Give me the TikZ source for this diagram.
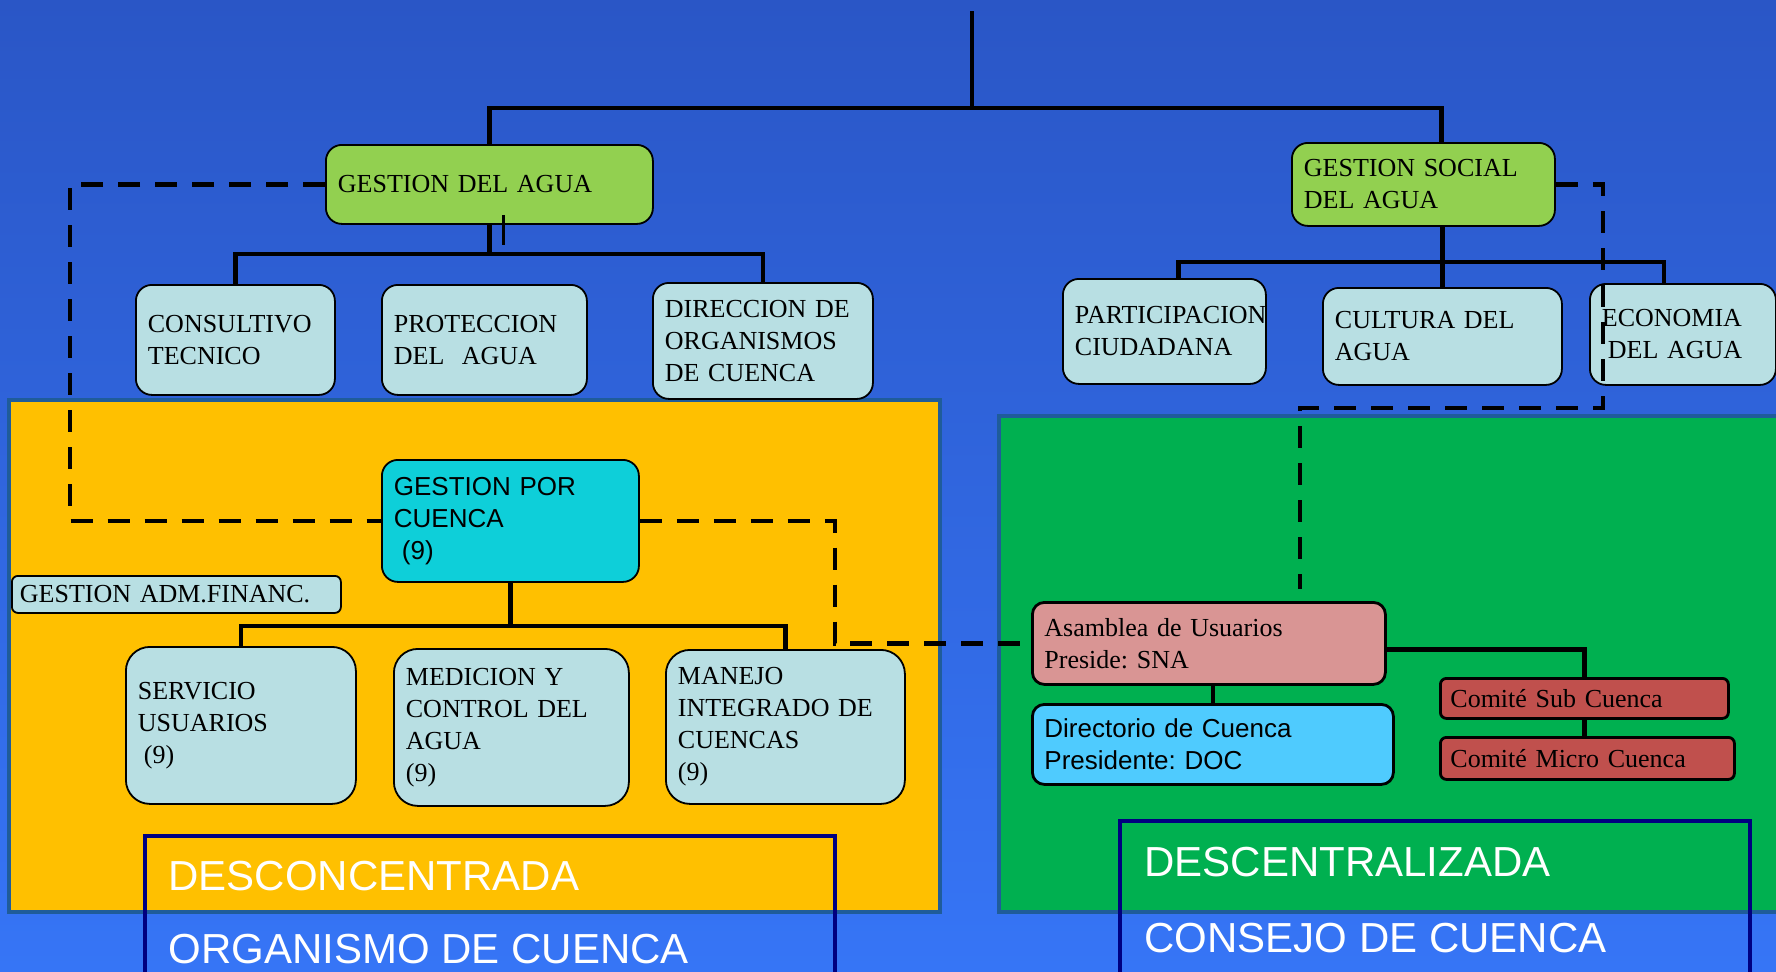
\documentclass[tikz,border=0pt]{standalone}
\usepackage{fontspec}
\setmainfont{Liberation Serif}
\setsansfont{Liberation Sans}
\frenchspacing
\definecolor{bgtop}{HTML}{2A56C6}
\definecolor{bgbot}{HTML}{3675F6}
\definecolor{verde}{HTML}{92D050}
\definecolor{celeste}{HTML}{B8DFE3}
\definecolor{turquesa}{HTML}{0ECFD9}
\definecolor{naranja}{HTML}{FFC000}
\definecolor{pasto}{HTML}{00B050}
\definecolor{rosa}{HTML}{D99594}
\definecolor{cielo}{HTML}{4FCBFE}
\definecolor{ladrillo}{HTML}{C0504D}
\definecolor{marco}{HTML}{1F5C9A}
\definecolor{marino}{HTML}{000080}

\begin{document}
\begin{tikzpicture}[x=0.5pt,y=-0.5pt,
    orgbox/.style={draw, line width=0.9pt, rounded corners=8pt, anchor=north west, align=left, inner xsep=6pt, inner ysep=0pt, font=\fontsize{13}{16}\selectfont},
    light/.style={orgbox, fill=celeste},
    conn/.style={line width=2.2pt},
    dashlink/.style={line width=2.2pt, dash pattern=on 11pt off 7.5pt},
    zone/.style={fill=#1, draw=marco, line width=2pt},
    tagframe/.style={draw=marino, line width=1.6pt},
    bigtext/.style={anchor=west, text=white, inner sep=0pt, font=\sffamily\fontsize{21}{25}\selectfont}]
    \useasboundingbox (0,0) rectangle (1776,971);
    \clip (0,0) rectangle (1776,971);
    \fill[top color=bgtop, bottom color=bgbot] (0,0) rectangle (1776,971);
    \draw[zone=naranja] (9,400) rectangle (940,912);
    \draw[zone=pasto] (999,416) rectangle (1790,912);
    \draw[tagframe] (145,836) rectangle (835,990);
    \draw[tagframe] (1120,821) rectangle (1750,990);
    \node[bigtext] (desc) at (168,876) {DESCONCENTRADA};
    \node[bigtext] (orgc) at (168,949) {ORGANISMO DE CUENCA};
    \node[bigtext] (decen) at (1144,862) {DESCENTRALIZADA};
    \node[bigtext] (conc) at (1144,938) {CONSEJO DE CUENCA};

    \node[orgbox, fill=verde, text width=151.5pt, minimum height=39.5pt] (gda) at (325,144) {GESTION DEL AGUA};
    \node[orgbox, fill=verde, text width=119.5pt, minimum height=41.5pt] (gsda) at (1291,142) {GESTION SOCIAL\\DEL AGUA};
    \node[light, text width=87.5pt, minimum height=55pt] (ct) at (135,284) {CONSULTIVO\\TECNICO};
    \node[light, text width=90.5pt, minimum height=55pt] (pa) at (381,284) {PROTECCION\\DEL~~AGUA};
    \node[light, text width=98pt, minimum height=58pt] (doc) at (652,282) {DIRECCION DE\\ORGANISMOS\\DE CUENCA};
    \node[light, text width=89.5pt, minimum height=52.5pt] (pc) at (1062,278) {PARTICIPACION\\CIUDADANA};
    \node[light, text width=107.5pt, minimum height=48.5pt] (cda) at (1322,287) {CULTURA DEL\\AGUA};
    \node[light, text width=81pt, minimum height=50.5pt] (eda) at (1589,283) {ECONOMIA\\\hspace*{3pt}DEL AGUA};
    \node[orgbox, fill=turquesa, font=\sffamily\fontsize{13}{16}\selectfont, text width=116.5pt, minimum height=61pt] (gpc) at (381,459) {GESTION POR\\CUENCA\\\hspace*{4pt}(9)};
    \node[light, rounded corners=3pt, inner xsep=4pt, text width=156.5pt, minimum height=18.5pt] (gaf) at (11,575) {GESTION ADM.FINANC.};
    \node[light, rounded corners=12pt, text width=103pt, minimum height=78.5pt] (su) at (125,646) {SERVICIO\\USUARIOS\\\hspace*{3pt}(9)};
    \node[light, rounded corners=12pt, text width=105.5pt, minimum height=78.5pt] (mc) at (393,648) {MEDICION Y\\CONTROL DEL\\AGUA\\(9)};
    \node[light, rounded corners=12pt, text width=107.5pt, minimum height=77pt] (mi) at (665,649) {MANEJO\\INTEGRADO DE\\CUENCAS\\(9)};
    \node[orgbox, fill=rosa, line width=1.4pt, rounded corners=6pt, text width=164.5pt, minimum height=41pt] (au) at (1031,601) {Asamblea de Usuarios\\Preside: SNA};
    \node[orgbox, fill=cielo, line width=1.4pt, rounded corners=6pt, font=\sffamily\fontsize{13}{16}\selectfont, text width=168.5pt, minimum height=40pt] (dc) at (1031,703) {Directorio de Cuenca\\Presidente: DOC};
    \node[orgbox, fill=ladrillo, line width=1.4pt, rounded corners=3pt, inner xsep=5pt, text width=134pt, minimum height=20pt] (csc) at (1439,677) {Comité Sub Cuenca};
    \node[orgbox, fill=ladrillo, line width=1.4pt, rounded corners=3pt, inner xsep=5pt, text width=137pt, minimum height=21pt] (cmc) at (1439,736) {Comité Micro Cuenca};

    \coordinate (top) at (972,11);
    \coordinate (hub) at (972,108);
    \coordinate (lbus) at (489,254);
    \coordinate (rbus) at (1441,262);
    \coordinate (mbus) at (509,626);
    \draw[conn] (top) -- (hub);
    \draw[conn] (gda.north) |- (hub) -| ([xshift=9pt]gsda.north);
    \draw[conn] (gda.south) -- (gda.south |- lbus);
    \draw[conn] (ct.north) |- (lbus) -| (doc.north);
    \draw[line width=1.4pt] ([xshift=7pt,yshift=5pt]gda.south) -- ++(0,30);
    \draw[conn] (cda.north |- gsda.south) -- (cda.north);
    \draw[conn] ([xshift=7pt]pc.north) |- (rbus) -| ([xshift=-9.5pt]eda.north);
    \draw[conn] (gpc.south) -- (gpc.south |- mbus);
    \draw[conn] (su.north) |- (mbus) -| (mi.north);
    \draw[conn] ([yshift=-3pt]au.east) -| (csc.north);
    \draw[conn] (au.south -| dc.north) -- (dc.north);
    \draw[conn] (csc.south) -- (csc.south |- cmc.north);

    \coordinate (dl) at (70,522);
    \coordinate (dr) at (835,642);
    \coordinate (dk) at (1603,408);
    \coordinate (de) at (1300,589);
    \draw[dashlink] (gda.west) -| (dl |- gpc.west) -- (gpc.west);
    \draw[dashlink] (gpc.east) -| (dr |- au.west) -- (au.west);
    \draw[dashlink] (gsda.east) -| (dk) -| (de);
\end{tikzpicture}
\end{document}
